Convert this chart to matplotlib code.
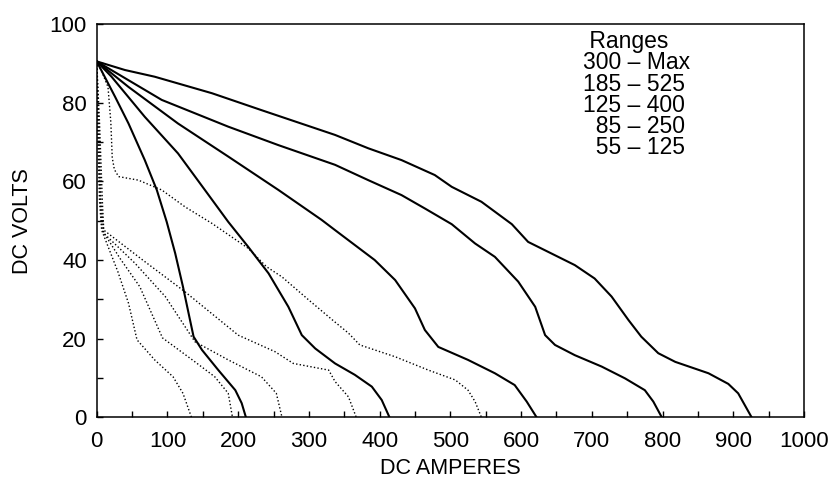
import matplotlib
matplotlib.use("Agg")
import matplotlib.pyplot as plt
from matplotlib.ticker import MultipleLocator

plt.rcParams["font.family"] = ["Liberation Sans", "DejaVu Sans"]

# solid curves (upper five ranges), DC amperes vs DC volts
A_X = [0, 40, 82, 163, 233, 337, 384, 431, 478, 502, 544, 587, 610, 676, 704,
       728, 752, 770, 794, 818, 865, 893, 907, 926]
A_Y = [90.5, 88.3, 86.6, 82.4, 78.1, 71.8, 68.4, 65.4, 61.6, 58.6, 54.8, 49.1,
       44.6, 38.7, 35.3, 30.7, 24.7, 20.5, 16.3, 14.1, 11.2, 8.5, 6.1, 0]
B_X = [0, 92, 186, 257, 337, 384, 431, 464, 502, 535, 563, 596, 620, 634, 648,
       676, 714, 747, 775, 787, 799]
B_Y = [90.5, 80.7, 73.9, 69.2, 64.2, 60.3, 56.5, 53.1, 49.1, 44.2, 40.8, 34.5,
       28.1, 20.9, 18.4, 15.8, 12.9, 9.9, 6.9, 4.0, 0]
C_X = [0, 45, 115, 186, 257, 318, 337, 393, 422, 450, 464, 483, 525, 563, 591,
       608, 622]
C_Y = [90.5, 84, 74.7, 66.3, 57.8, 50.2, 47.6, 40, 34.9, 27.7, 22.2, 17.9, 14.6,
       11.2, 8.2, 4.0, 0]
D_X = [0, 21, 68, 115, 153, 186, 214, 243, 271, 290, 309, 337, 365, 389, 403, 414]
D_Y = [90.5, 86.6, 76.4, 67.1, 57.8, 49.7, 43.4, 36.6, 28.1, 20.9, 17.5, 13.7,
       10.8, 7.8, 4.4, 0]
E_X = [0, 26, 45, 68, 85, 99, 111, 122, 130, 137, 149, 172, 196, 205, 211]
E_Y = [90.5, 81.5, 74.7, 65.4, 57.8, 49.7, 41.7, 33.2, 26.4, 20.5, 17.1, 12.0,
       6.9, 3.6, 0]

# dotted curves
D1_X = [0, 7, 16, 20, 22, 25, 31, 59, 92, 125, 163, 214, 240, 262, 300, 335,
        356, 372, 422, 469, 507, 525, 535, 544]
D1_Y = [90.5, 88, 84, 75, 66, 63, 61.2, 60.3, 57.8, 53.5, 49.3, 43, 38.3, 35.7,
        29.8, 24.5, 21.4, 18.4, 15.4, 12.0, 9.5, 6.9, 4.0, 0]
D2_X = [0, 4, 8, 10, 65, 125, 200, 252, 278, 328, 337, 356, 367]
D2_Y = [90.5, 75, 55, 47.6, 40, 31.9, 20.9, 16.7, 13.7, 12.0, 9.1, 5.2, 0]
D3_X = [0, 3, 6, 10, 54, 97, 139, 186, 233, 254, 262]
D3_Y = [90.5, 75, 55, 46.8, 39.2, 30.7, 19.2, 14.6, 10.3, 6.1, 0]
D4_X = [0, 2, 5, 8, 33, 61, 93, 139, 167, 186, 192]
D4_Y = [90.5, 75, 55, 47.5, 40.4, 33.2, 20.2, 14.1, 10.3, 6.1, 0]
D5_X = [0, 1, 4, 7, 30, 45, 57, 82, 108, 122, 134]
D5_Y = [90.5, 75, 55, 47.6, 37, 29, 19.7, 14.6, 10.3, 6.1, 0]

RANGE_LABELS = [" Ranges", "300 – Max", "185 – 525", "125 – 400",
                "  85 – 250", "  55 – 125"]

fig = plt.figure(figsize=(8.4, 4.92), dpi=100)
ax = fig.add_axes([0.1151, 0.1518, 0.842, 0.7994])

for xs, ys in [(A_X, A_Y), (B_X, B_Y), (C_X, C_Y), (D_X, D_Y), (E_X, E_Y)]:
    ax.plot(xs, ys, color="black", lw=1.5, solid_joinstyle="round")
for xs, ys in [(D1_X, D1_Y), (D2_X, D2_Y), (D3_X, D3_Y), (D4_X, D4_Y), (D5_X, D5_Y)]:
    ax.plot(xs, ys, color="black", lw=1.0, ls=(0, (1, 1.6)))

for i, lab in enumerate(RANGE_LABELS):
    ax.text(688, 95.5 - 5.4 * i, lab, fontsize=16.5, ha="left", va="center")

ax.set_xlim(0, 1000)
ax.set_ylim(0, 100)
ax.xaxis.set_major_locator(MultipleLocator(100))
ax.xaxis.set_minor_locator(MultipleLocator(50))
ax.yaxis.set_major_locator(MultipleLocator(20))
ax.yaxis.set_minor_locator(MultipleLocator(10))
ax.tick_params(which="both", direction="in", length=4.5, width=1.0,
               top=False, right=False)
ax.tick_params(axis="x", which="major", pad=10, labelsize=16)
ax.tick_params(axis="y", which="major", pad=7, labelsize=16)
for s in ax.spines.values():
    s.set_linewidth(1.1)

ax.set_xlabel("DC AMPERES", fontsize=15.5, labelpad=4)
ax.set_ylabel("DC VOLTS", fontsize=15.5, labelpad=12)

fig.savefig("out.png", dpi=100)
